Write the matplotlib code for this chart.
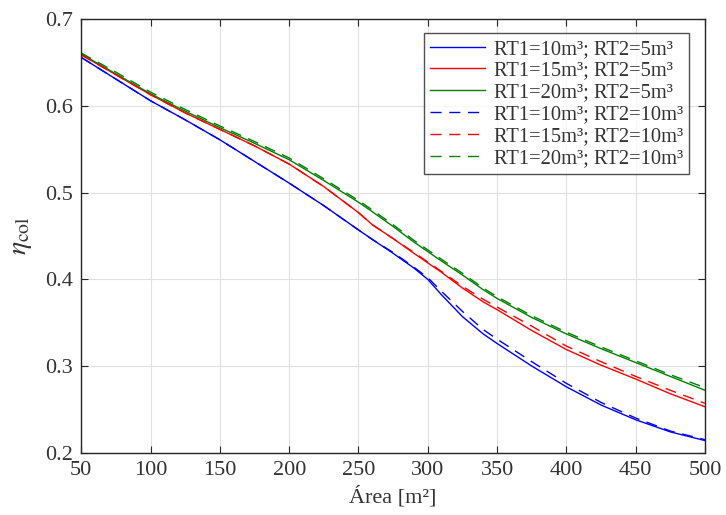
import numpy as np
import matplotlib
matplotlib.use("Agg")
import matplotlib.pyplot as plt

plt.rcParams['font.family'] = ['Liberation Serif', 'DejaVu Serif']
plt.rcParams['mathtext.fontset'] = 'stix'

# ---- data ----
area = [50, 75, 100, 125, 150, 175, 200, 225, 250, 260, 275, 290, 300, 310, 325, 340, 350, 375, 400, 425, 450, 475, 500]

b_5  = [0.656, 0.631, 0.606, 0.584, 0.561, 0.536, 0.511, 0.485, 0.457, 0.446, 0.430, 0.413, 0.400, 0.382, 0.357, 0.337, 0.326, 0.300, 0.276, 0.255, 0.238, 0.224, 0.214]
r_5  = [0.659, 0.636, 0.613, 0.592, 0.573, 0.554, 0.533, 0.507, 0.477, 0.463, 0.447, 0.430, 0.419, 0.408, 0.390, 0.374, 0.365, 0.341, 0.319, 0.301, 0.285, 0.268, 0.253]
g_5  = [0.660, 0.637, 0.614, 0.594, 0.575, 0.557, 0.538, 0.514, 0.489, 0.478, 0.461, 0.443, 0.432, 0.421, 0.405, 0.388, 0.378, 0.356, 0.337, 0.320, 0.304, 0.288, 0.272]

b_10 = [0.656, 0.631, 0.606, 0.584, 0.561, 0.536, 0.511, 0.485, 0.457, 0.446, 0.431, 0.414, 0.402, 0.386, 0.363, 0.342, 0.331, 0.305, 0.280, 0.258, 0.240, 0.225, 0.215]
r_10 = [0.659, 0.636, 0.613, 0.592, 0.573, 0.554, 0.533, 0.507, 0.477, 0.463, 0.447, 0.431, 0.420, 0.409, 0.392, 0.377, 0.368, 0.346, 0.323, 0.305, 0.288, 0.272, 0.257]
g_10 = [0.661, 0.639, 0.616, 0.596, 0.577, 0.559, 0.540, 0.516, 0.491, 0.480, 0.463, 0.445, 0.434, 0.423, 0.407, 0.390, 0.380, 0.358, 0.339, 0.322, 0.306, 0.290, 0.275]

labels = ["RT1=10m³; RT2=5m³", "RT1=15m³; RT2=5m³", "RT1=20m³; RT2=5m³",
          "RT1=10m³; RT2=10m³", "RT1=15m³; RT2=10m³", "RT1=20m³; RT2=10m³"]

xticks = [50, 100, 150, 200, 250, 300, 350, 400, 450, 500]
yticks = [0.2, 0.3, 0.4, 0.5, 0.6, 0.7]

fig = plt.figure(figsize=(7.26, 5.15), dpi=100)
ax = fig.add_axes([0.112, 0.121, 0.859, 0.8415])

blue, red, green = (0, 0, 1), (1, 0, 0), (0, 0.5, 0)
dash = (0, (8, 5.5))
lw = 1.0
ax.plot(area, b_5, color=blue, lw=lw, label=labels[0])
ax.plot(area, r_5, color=red, lw=lw, label=labels[1])
ax.plot(area, g_5, color=green, lw=lw, label=labels[2])
ax.plot(area, b_10, color=blue, lw=lw, ls=dash, label=labels[3])
ax.plot(area, r_10, color=red, lw=lw, ls=dash, label=labels[4])
ax.plot(area, g_10, color=green, lw=lw, ls=dash, label=labels[5])

ax.set_xlim(50, 500)
ax.set_ylim(0.2, 0.7)
ax.set_xticks(xticks)
ax.set_yticks(yticks)
ax.set_xticklabels([str(v) for v in xticks])
ax.set_yticklabels([f"{v:.1f}" for v in yticks])

dark = (0.15, 0.15, 0.15)
ax.grid(True, color=(0.88, 0.88, 0.88), lw=0.8)
ax.set_axisbelow(True)
for s in ax.spines.values():
    s.set_color(dark)
    s.set_linewidth(1.0)
ax.tick_params(direction='in', top=True, right=True, length=5, width=0.8,
               colors=dark, labelsize=16, pad=6)
for t in ax.get_xticklabels() + ax.get_yticklabels():
    t.set_color((0.2, 0.2, 0.2))

ax.set_xlabel("Área [m²]", fontsize=16, color=(0.2, 0.2, 0.2), labelpad=4)
ax.set_ylabel(r"$\eta_{\mathrm{col}}$", fontsize=20, color=(0.2, 0.2, 0.2), labelpad=8)

leg = ax.legend(loc='upper right', bbox_to_anchor=(0.9743, 0.968), borderaxespad=0,
                fontsize=14.8, frameon=True, fancybox=False, handlelength=2.7,
                handletextpad=0.4, labelspacing=0.12, borderpad=0.3)
leg.get_frame().set_edgecolor(dark)
leg.get_frame().set_linewidth(1.0)
for t in leg.get_texts():
    t.set_color((0.2, 0.2, 0.2))

fig.savefig("out.png", dpi=100)
